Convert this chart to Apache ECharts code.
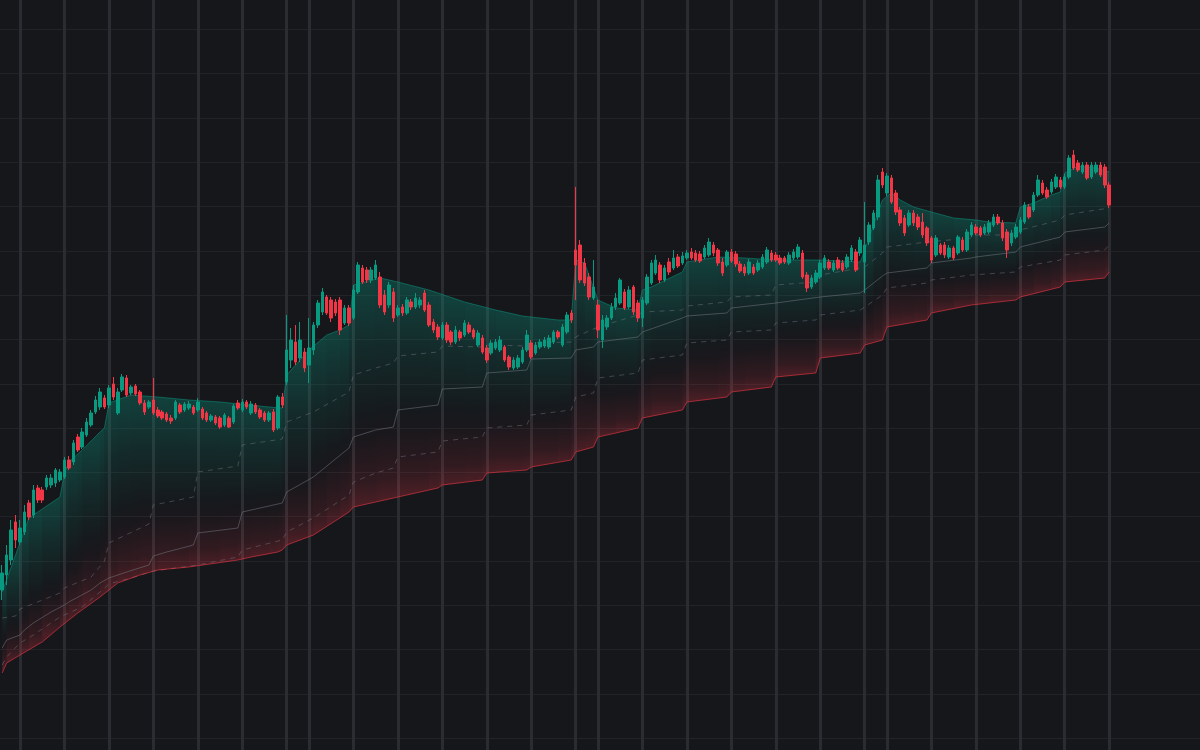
<!DOCTYPE html>
<html>
<head>
<meta charset="utf-8">
<script src="https://cdn.jsdelivr.net/npm/echarts@6/dist/echarts.min.js"></script>
<style>
html,body{margin:0;padding:0;background:#16171b;}
#chart{width:1200px;height:750px;}
</style>
</head>
<body>
<div id="chart"></div>
<script>
// ---------- data ----------
const categories = Array.from({length: 250}, (_, i) => 'Bar ' + (i + 1));

// candles: [open, close, low, high]
const ohlc = [
[410,427,400,435],[425,445,415,455],[440,470,435,480],[478,460,452,485],[458,472,455,480],
[468,488,465,495],[497,483,480,500],[485,510,482,515],[512,500,497,515],[510,500,497,513],
[513,522,510,525],[515,522,512,526],[517,530,513,532],[520,528,518,531],[523,540,521,543],
[540,532,530,544],[538,557,535,560],[563,550,548,566],[553,568,551,572],[565,578,563,582],
[575,587,573,590],[588,600,586,604],[593,608,590,612],[602,593,591,605],[595,612,592,615],
[616,603,600,623],[587,608,585,612],[610,623,608,626],[622,605,603,625],[607,613,605,615],
[614,606,604,616],[608,597,595,610],[597,588,585,600],[593,598,591,600],[600,587,585,622],
[590,584,582,593],[588,582,580,590],[586,580,578,588],[582,579,576,585],[582,598,580,600],
[595,588,586,597],[590,596,588,598],[592,596,590,599],[593,587,585,595],[590,598,588,602],
[591,582,580,593],[587,580,578,589],[580,584,578,586],[583,577,575,585],[582,573,571,584],
[575,585,573,587],[582,573,572,584],[578,594,576,596],[597,592,590,600],[590,598,588,601],
[598,593,591,600],[587,596,585,599],[595,588,586,597],[590,583,581,592],[587,580,578,589],
[580,587,578,589],[588,570,568,591],[572,603,570,605],[603,595,592,607],[618,650,615,685],
[640,660,632,672],[658,638,635,675],[642,660,638,678],[648,632,628,652],[635,652,617,682],
[650,675,645,678],[675,697,672,700],[688,708,685,712],[703,687,685,705],[700,682,678,703],
[698,687,684,701],[700,670,665,703],[677,692,675,695],[692,677,674,695],[682,710,680,715],
[708,735,706,738],[732,718,716,735],[730,720,717,733],[720,730,717,733],[722,735,720,740],
[723,695,692,728],[705,688,685,710],[695,715,692,718],[708,682,678,712],[685,692,683,695],
[693,687,684,696],[687,700,685,703],[698,693,690,701],[693,702,691,707],[695,700,692,703],
[707,690,688,710],[695,675,673,698],[678,670,667,681],[673,663,660,676],[662,675,660,678],
[675,660,657,678],[668,658,655,670],[658,670,656,674],[668,662,659,670],[665,677,663,680],
[675,668,666,678],[670,663,661,672],[655,667,653,670],[662,648,646,665],[652,640,637,655],
[647,657,645,660],[652,658,650,661],[650,660,648,664],[653,640,638,655],[643,633,630,645],
[632,640,630,643],[633,642,631,645],[638,650,636,653],[650,665,648,670],[657,643,641,660],
[647,655,645,658],[653,658,651,661],[654,660,652,663],[653,662,651,665],[658,668,656,670],
[668,663,661,670],[655,673,653,676],[668,685,666,688],[687,680,677,690],[750,735,700,813],
[755,720,717,760],[737,717,714,742],[723,703,700,727],[702,713,700,740],[695,670,662,700],
[660,680,652,685],[673,682,670,685],[682,693,680,697],[693,702,690,707],[697,720,695,722],
[708,692,690,711],[693,710,691,714],[713,688,685,715],[697,682,678,700],[682,700,673,703],
[697,723,695,726],[717,737,715,740],[727,740,725,745],[735,720,717,738],[720,732,718,735],
[738,728,725,742],[732,742,730,750],[743,734,732,746],[737,744,735,748],[742,747,740,750],
[748,742,740,752],[747,740,738,750],[746,739,737,749],[743,752,741,755],[745,758,743,762],
[755,747,744,758],[750,737,734,752],[738,727,724,742],[735,748,733,750],[748,739,737,751],
[746,736,733,749],[736,729,727,739],[733,727,724,736],[727,738,725,741],[733,727,725,736],
[730,737,728,740],[733,743,731,746],[738,750,736,753],[747,740,738,750],[745,740,738,748],
[742,737,735,745],[742,738,736,744],[737,745,735,748],[742,748,740,751],[743,753,741,756],
[747,723,721,750],[725,712,708,728],[713,722,711,725],[718,727,716,730],[723,737,721,740],
[732,742,730,745],[738,732,730,741],[730,737,728,740],[740,732,730,743],[737,730,728,740],
[733,743,731,746],[740,752,738,755],[748,730,728,751],[747,760,744,763],[738,755,707,798],
[758,775,755,778],[772,787,770,790],[783,820,780,825],[828,815,812,832],[807,824,804,827],
[822,798,796,825],[807,788,785,810],[790,777,774,793],[782,767,764,785],[775,787,773,790],
[787,777,774,790],[783,773,770,786],[778,765,762,787],[772,757,754,774],[762,740,737,764],
[745,762,743,765],[755,747,745,757],[755,745,742,758],[743,752,741,755],[752,742,740,754],
[747,763,745,765],[760,750,748,763],[750,768,748,771],[765,775,763,778],[773,767,765,776],
[772,765,763,774],[767,773,765,776],[768,777,766,780],[775,783,773,786],[783,777,775,786],
[777,762,759,780],[768,750,742,771],[757,767,754,770],[763,773,761,776],[768,780,766,783],
[778,795,776,798],[793,783,781,796],[790,805,788,808],[805,820,803,825],[817,807,805,820],
[810,803,801,813],[808,818,806,821],[813,823,811,826],[820,813,811,823],[813,823,811,826],
[823,842,821,845],[845,832,830,850],[837,830,828,840],[828,835,826,838],[835,822,820,838],
[823,835,821,838],[828,835,826,838],[835,825,823,838],[833,815,812,836],[815,795,792,818]
];

// band lines: [bar index, value]
const upperBand = [[0,408],[6,482],[13,503],[14,527],[15,538],[18,550],[22,568],[23,572],[24,597],[29,605],[35,603],[42,600],[49,598],[60,593],[63,592],[64,625],[69,650],[73,665],[76,670],[78,675],[79,715],[85,722],[89,718],[96,710],[104,698],[111,690],[117,684],[125,680],[128,680],[129,740],[131,737],[134,700],[138,692],[143,690],[144,710],[146,713],[153,728],[154,738],[161,743],[167,742],[174,740],[184,740],[193,738],[194,750],[196,775],[198,800],[200,807],[202,800],[205,793],[209,788],[214,782],[219,780],[222,778],[228,777],[229,793],[232,797],[236,805],[238,808],[239,827],[242,834],[246,832],[249,828]];

const levelDash1 = [[0,382],[3,384],[4,391],[13,407],[14,412],[20,423],[23,439],[24,457],[33,476],[34,495],[43,503],[44,528],[53,534],[54,555],[63,561],[64,578],[70,588],[78,608],[79,625],[84,632],[88,637],[89,644],[98,648],[99,654],[108,653],[109,655],[118,654],[119,657],[128,658],[129,663],[134,673],[143,685],[144,688],[153,690],[154,694],[163,698],[164,703],[173,705],[174,715],[183,718],[184,725],[193,732],[194,733],[198,747],[199,753],[208,758],[218,762],[219,765],[228,765],[229,770],[238,780],[239,785],[249,792]];

const levelSolid = [[0,352],[1,360],[4,365],[5,370],[7,377],[11,388],[14,395],[15,398],[20,410],[22,417],[24,422],[28,428],[33,435],[34,444],[37,448],[43,455],[44,467],[53,472],[54,488],[63,497],[64,508],[70,523],[78,552],[79,563],[84,570],[88,573],[89,590],[98,595],[99,611],[108,613],[109,627],[118,630],[119,641],[128,642],[129,650],[133,653],[134,658],[143,663],[144,668],[153,682],[154,684],[163,687],[164,692],[174,697],[184,703],[193,707],[194,710],[198,724],[199,727],[208,732],[209,737],[218,742],[219,743],[228,748],[229,753],[238,763],[239,768],[248,773],[249,777]];

const levelDash2 = [[0,335],[1,343],[4,357],[7,365],[13,383],[18,393],[22,408],[24,416],[29,422],[34,429],[44,435],[53,443],[54,450],[63,460],[64,468],[70,482],[78,505],[79,518],[84,527],[88,532],[89,543],[98,548],[99,559],[108,563],[109,572],[118,575],[119,585],[128,590],[129,603],[133,607],[134,622],[143,627],[144,640],[153,645],[154,657],[163,660],[164,668],[173,670],[174,677],[183,680],[184,685],[193,690],[194,693],[198,705],[199,712],[208,717],[209,720],[218,725],[228,728],[229,733],[238,740],[239,745],[248,750],[249,755]];

const lowerBand = [[0,327],[1,337],[4,345],[9,358],[13,373],[17,387],[22,403],[26,417],[31,425],[35,430],[42,433],[53,440],[56,443],[62,448],[63,450],[64,455],[70,465],[78,488],[79,493],[84,498],[89,503],[98,512],[99,515],[108,520],[109,527],[118,530],[119,533],[128,540],[129,548],[133,553],[134,563],[143,572],[144,582],[153,590],[154,598],[163,603],[164,608],[173,613],[174,623],[183,627],[184,642],[193,647],[194,655],[198,660],[199,673],[208,680],[209,687],[218,695],[228,700],[229,703],[238,713],[239,718],[248,722],[249,728]];

// bars that carry a vertical grid line
const gridLineBars = [4,14,24,34,44,54,64,69,79,89,99,109,119,129,134,144,154,164,174,184,194,199,209,219,229,239,249];

// ---------- chart ----------
const UP = '#089981', DOWN = '#f23645';

function valueAt(verts, k) {
  for (let j = 0; j < verts.length - 1; j++) {
    const a = verts[j], b = verts[j + 1];
    if (k >= a[0] && k <= b[0]) return a[1] + (b[1] - a[1]) * (k - a[0]) / (b[0] - a[0]);
  }
  return verts[verts.length - 1][1];
}
const fillBars = Array.from(new Set(upperBand.map(p => p[0]).concat(lowerBand.map(p => p[0])))).sort((a, b) => a - b);

const chart = echarts.init(document.getElementById('chart'), null, {renderer: 'canvas'});
chart.setOption({
  backgroundColor: '#16171b',
  animation: false,
  grid: [
    {left: 2.2, right: 90.8, top: 0, bottom: 0},
    {left: 0, right: 0, top: 29.3, bottom: 11.7}
  ],
  xAxis: [
    {
      type: 'category', gridIndex: 0, data: categories, boundaryGap: false,
      axisLine: {show: false}, axisTick: {show: false}, axisLabel: {show: false},
      splitLine: {show: true, interval: (idx) => gridLineBars.indexOf(idx) >= 0,
        lineStyle: {color: '#2b2c31', width: 3}}
    },
    {type: 'value', gridIndex: 1, min: 0, max: 1, show: false}
  ],
  yAxis: [
    {type: 'value', gridIndex: 0, min: 250, max: 1000, show: false},
    {
      type: 'value', gridIndex: 1, min: 0, max: 16, interval: 1,
      axisLine: {show: false}, axisTick: {show: false}, axisLabel: {show: false},
      splitLine: {show: true, lineStyle: {color: '#222327', width: 1}}
    }
  ],
  series: [
    {
      type: 'custom', xAxisIndex: 0, yAxisIndex: 0, z: 1, silent: true,
      data: [[0, 500]],
      renderItem: function (params, api) {
        const children = [];
        for (let j = 0; j < fillBars.length - 1; j++) {
          const a = fillBars[j], b = fillBars[j + 1];
          const ua = api.coord([a, valueAt(upperBand, a)]);
          const ub = api.coord([b, valueAt(upperBand, b)]);
          const ra = api.coord([a, valueAt(lowerBand, a)]);
          const rb = api.coord([b, valueAt(lowerBand, b)]);
          const yTop = (ua[1] + ub[1]) / 2, yBot = (ra[1] + rb[1]) / 2;
          children.push({
            type: 'polygon',
            shape: {points: [ua, ub, rb, ra]},
            style: {
              fill: new echarts.graphic.LinearGradient(0, yTop, 0, yBot, [
                {offset: 0, color: 'rgba(8,153,129,0.32)'},
                {offset: 0.3, color: 'rgba(8,153,129,0.15)'},
                {offset: 0.6, color: 'rgba(8,153,129,0.02)'},
                {offset: 0.7, color: 'rgba(242,54,69,0.02)'},
                {offset: 0.9, color: 'rgba(242,54,69,0.12)'},
                {offset: 1, color: 'rgba(242,54,69,0.24)'}
              ], true)
            }
          });
        }
        return {type: 'group', children: children};
      }
    },
    {type: 'line', data: levelDash1, symbol: 'none', silent: true, z: 2,
      lineStyle: {color: 'rgba(120,123,134,0.45)', width: 1, type: [5, 5]}},
    {type: 'line', data: levelSolid, symbol: 'none', silent: true, z: 2,
      lineStyle: {color: 'rgba(120,123,134,0.5)', width: 1}},
    {type: 'line', data: levelDash2, symbol: 'none', silent: true, z: 2,
      lineStyle: {color: 'rgba(120,123,134,0.45)', width: 1, type: [5, 5]}},
    {type: 'line', data: upperBand, symbol: 'none', silent: true, z: 2,
      lineStyle: {color: 'rgba(8,153,129,0.5)', width: 1}},
    {type: 'line', data: lowerBand, symbol: 'none', silent: true, z: 2,
      lineStyle: {color: 'rgba(242,54,69,0.6)', width: 1}},
    {
      type: 'candlestick', data: ohlc, barWidth: 3, z: 3, silent: true,
      itemStyle: {color: UP, color0: DOWN, borderColor: UP, borderColor0: DOWN, borderWidth: 1}
    }
  ]
});
</script>
</body>
</html>
